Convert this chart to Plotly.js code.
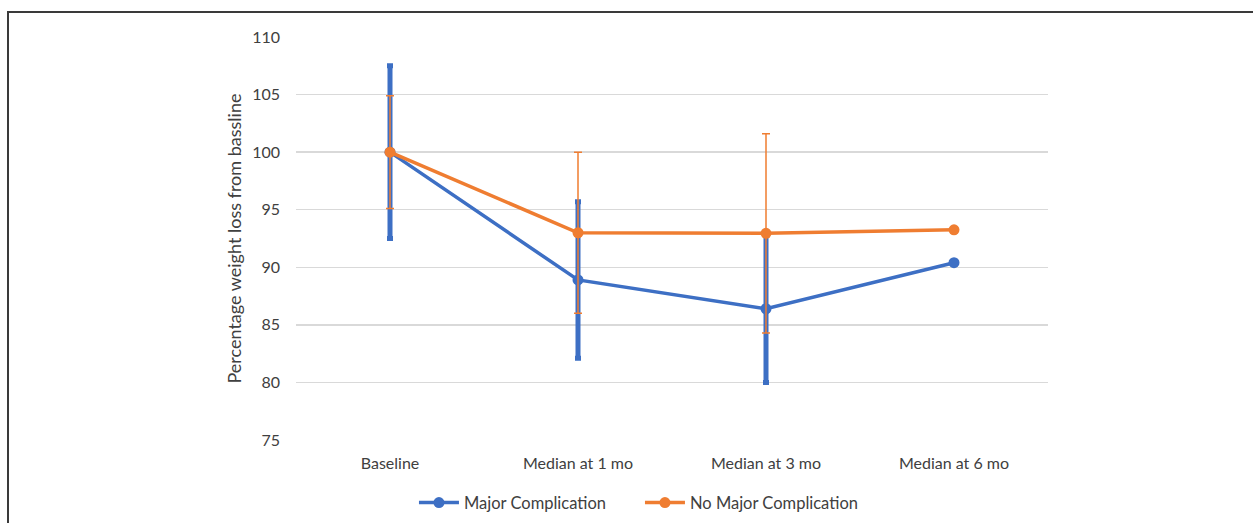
<!DOCTYPE html>
<html>
<head>
<meta charset="utf-8">
<script src="https://cdn.plot.ly/plotly-3.0.1.min.js"></script>
<style>
html,body{margin:0;padding:0;background:#fff;}
#wrap{position:relative;width:1253px;height:523px;overflow:hidden;}
#chart{position:absolute;left:0;top:0;width:1253px;height:523px;}
#frame{position:absolute;left:7px;top:11px;width:1260px;height:530px;border-left:2px solid #3a3a3a;border-top:2px solid #3a3a3a;pointer-events:none;}
</style>
</head>
<body>
<div id="wrap"><div id="chart"></div><div id="frame"></div></div>
<script>
const categories = ["Baseline", "Median at 1 mo", "Median at 3 mo", "Median at 6 mo"];
const majorValues = [100, 88.9, 86.4, 90.4];
const majorErrPlus = [7.5, 6.8, 6.4, null];
const majorErrMinus = [7.5, 6.8, 6.4, null];
const noMajorValues = [100, 93.0, 92.95, 93.25];
const noMajorErrPlus = [4.9, 7.0, 8.65, null];
const noMajorErrMinus = [4.9, 7.0, 8.65, null];
const yTicks = [75, 80, 85, 90, 95, 100, 105, 110];

const blue = "#3d6fc4";
const orange = "#ef7d31";
const font = "Lato, 'Liberation Sans', sans-serif";

const traces = [
  {
    x: categories, y: majorValues, name: "Major Complication", type: "scatter", mode: "lines+markers",
    line: {color: blue, width: 3.5}, marker: {color: blue, size: 11},
    error_y: {type: "data", symmetric: false, array: majorErrPlus, arrayminus: majorErrMinus,
      color: blue, thickness: 5, width: 3}
  },
  {
    x: categories, y: noMajorValues, name: "No Major Complication", type: "scatter", mode: "lines+markers",
    line: {color: orange, width: 3.5}, marker: {color: orange, size: 11},
    error_y: {type: "data", symmetric: false, array: noMajorErrPlus, arrayminus: noMajorErrMinus,
      color: orange, thickness: 1.5, width: 4}
  }
];

const layout = {
  width: 1253, height: 523,
  margin: {l: 296, r: 205, t: 37, b: 83, autoexpand: false},
  paper_bgcolor: "#fff", plot_bgcolor: "#fff",
  font: {family: font, size: 16, color: "#404040"},
  showlegend: true,
  legend: {orientation: "h", x: 0.4574, xanchor: "center", y: -0.156, yanchor: "middle",
    font: {family: font, size: 16.5, color: "#404040"}, itemwidth: 40,
    entrywidth: 171, entrywidthmode: "pixels"},
  xaxis: {
    type: "category", range: [-0.5, 3.5], showgrid: false, zeroline: false,
    showline: false, ticks: "", ticklabelstandoff: 12,
    tickfont: {family: font, size: 16, color: "#404040"}
  },
  yaxis: {
    range: [75, 110], tickvals: yTicks, ticktext: yTicks.map(String),
    showgrid: true, gridcolor: "#d9d9d9", gridwidth: 1.5, zeroline: false, showline: false,
    ticks: "", ticklabelstandoff: 15,
    tickfont: {family: font, size: 16, color: "#404040"},
    title: {text: "Percentage weight loss from bassline", font: {family: font, size: 18, color: "#404040"}, standoff: 5}
  }
};

Plotly.newPlot("chart", traces, layout, {displayModeBar: false, staticPlot: true});
</script>
</body>
</html>
